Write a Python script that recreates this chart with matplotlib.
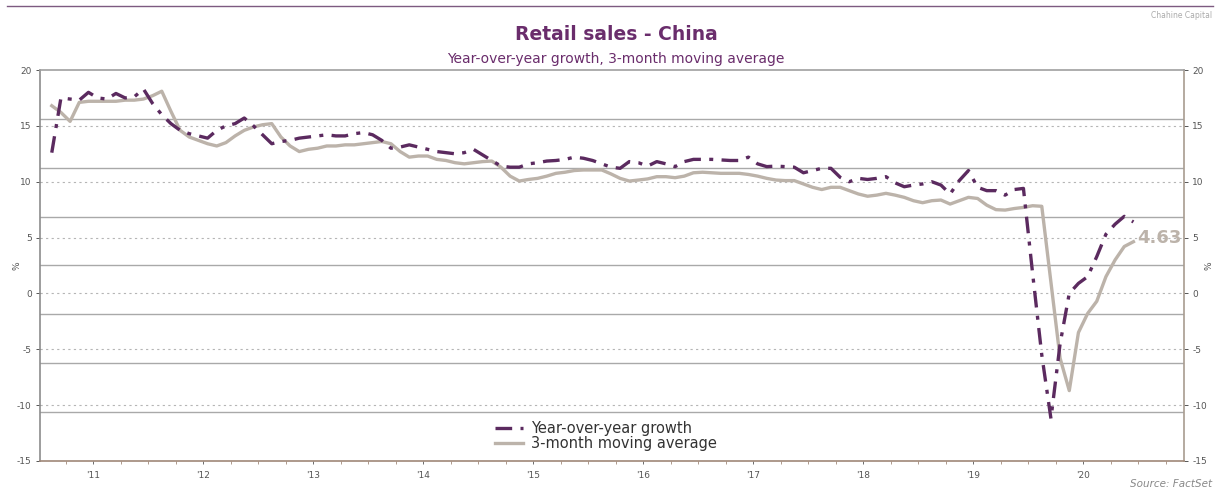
import matplotlib
matplotlib.use("Agg")
import matplotlib.pyplot as plt

# monthly data, Feb 2011 .. Dec 2020
start_year = 2011
start_month = 2

yoy_growth = [
    12.6, 17.5, 17.4, 17.3, 18.0, 17.5, 17.4, 17.9, 17.5, 17.6, 18.3,
    17.0, 16.0, 15.2, 14.6, 14.3, 14.1, 13.9, 14.6, 15.0, 15.2, 15.7, 15.0,
    14.2, 13.4, 13.6, 13.7, 13.9, 14.0, 14.1, 14.2, 14.1, 14.1, 14.3, 14.4,
    14.2, 13.7, 13.0, 13.1, 13.3, 13.1, 12.9, 12.7, 12.6, 12.5, 12.6, 12.9,
    12.4, 11.9, 11.4, 11.3, 11.3, 11.6, 11.7, 11.85, 11.9, 12.0, 12.2, 12.1,
    11.9, 11.6, 11.3, 11.2, 11.8, 11.7, 11.4, 11.8, 11.6, 11.35, 11.8, 12.0,
    12.0, 12.0, 11.95, 11.9, 11.9, 12.2, 11.6, 11.35, 11.4, 11.35, 11.3, 10.8,
    11.0, 11.2, 11.2, 10.4, 10.0, 10.3, 10.2, 10.3, 10.45, 9.9, 9.55, 9.7,
    9.8, 10.0, 9.7, 8.9, 10.1, 11.0, 9.5, 9.2, 9.2, 8.8, 9.3, 9.4,
    1.8, -5.5, -11.2, -4.5, 0.0, 0.9, 1.5, 3.3, 5.3, 6.2, 6.9, 6.4,
]

moving_avg_3m = [
    16.8, 16.2, 15.4, 17.1, 17.2, 17.2, 17.2, 17.2, 17.3, 17.3, 17.4,
    17.7, 18.1, 16.3, 14.6, 14.0, 13.7, 13.4, 13.2, 13.5, 14.1, 14.6, 14.9,
    15.1, 15.2, 14.0, 13.2, 12.7, 12.9, 13.0, 13.2, 13.2, 13.3, 13.3, 13.4,
    13.5, 13.6, 13.4, 12.7, 12.2, 12.3, 12.3, 12.0, 11.9, 11.7, 11.6, 11.7,
    11.8, 11.85, 11.3, 10.5, 10.06, 10.2, 10.3, 10.5, 10.75, 10.85, 11.0, 11.05,
    11.05, 11.05, 10.7, 10.3, 10.06, 10.15, 10.25, 10.45, 10.45, 10.36, 10.5, 10.8,
    10.85, 10.8, 10.75, 10.75, 10.75, 10.65, 10.5, 10.3, 10.15, 10.1, 10.1, 9.8,
    9.5, 9.3, 9.5, 9.5, 9.2, 8.9, 8.7, 8.8, 8.96, 8.8, 8.6, 8.3,
    8.12, 8.3, 8.36, 8.0, 8.3, 8.6, 8.5, 7.9, 7.5, 7.46, 7.6, 7.7,
    7.85, 7.8, 1.0, -5.8, -8.7, -3.5, -1.8, -0.7, 1.5, 3.0, 4.2, 4.63,
]

year_labels = ["'11", "'12", "'13", "'14", "'15", "'16", "'17", "'18", "'19", "'20"]
y_ticks = [-15, -10, -5, 0, 5, 10, 15, 20]

PURPLE = "#5b2a5f"
TITLE_PURPLE = "#6a2d6c"
TAUPE = "#bcb3aa"

dates = [start_year + (start_month - 1 + i + 0.5) / 12 for i in range(len(yoy_growth))]

fig = plt.figure(figsize=(12.15, 4.9), dpi=100)
ax = fig.add_axes([40 / 1215, 1 - 461 / 490, (1184 - 40) / 1215, (461 - 70) / 490])

ymin, ymax = -15, 20
xmin, xmax = 2011.018, 2021.418
ax.set_ylim(ymin, ymax)
ax.set_xlim(xmin, xmax)

# solid grid (8 equal bands) and dotted grid at the ticks
for k in range(1, 8):
    ax.axhline(ymax - k * (ymax - ymin) / 8, color="#a9a9a9", lw=1.0, zorder=1)
for v in y_ticks[1:-1]:
    ax.axhline(v, color="#b5b5b5", lw=0.8, ls=(0, (2, 3)), zorder=1)

ax.plot(dates, moving_avg_3m, color=TAUPE, lw=2.4, label="3-month moving average", zorder=3)
ax.plot(dates, yoy_growth, color=PURPLE, lw=2.4, ls=(0, (5, 2.5, 1.2, 2.5)),
        label="Year-over-year growth", zorder=4)

ax.text(xmax - 0.02, moving_avg_3m[-1] + 0.3, f"{moving_avg_3m[-1]:.2f}",
        color=TAUPE, fontsize=13, fontweight="bold", va="center", ha="right")

# axes styling
ax.spines["top"].set_color("#a0a0a0")
ax.spines["left"].set_color("#8c8c8c")
ax.spines["right"].set_color("#a89c90")
ax.spines["bottom"].set_color("#a08878")
for s in ax.spines.values():
    s.set_linewidth(1.2)

ax.set_yticks(y_ticks)
ax.set_yticklabels([str(v) for v in y_ticks])
ax.tick_params(axis="y", which="both", left=True, right=True, labelleft=True, labelright=True,
               labelsize=6.5, colors="#555555", length=3, width=0.7, pad=3)

quarters = [y + q / 4 for y in range(2011, 2022) for q in range(4)]
ax.set_xticks([q for q in quarters if xmin < q < xmax], minor=True)
ax.set_xticks([y + 0.5 for y in range(2011, 2021)])
ax.set_xticklabels(year_labels)
ax.tick_params(axis="x", which="major", length=2, width=0.6, colors="#555555", labelsize=6.5, pad=5)
ax.tick_params(axis="x", which="minor", length=2, width=0.6, color="#a08878")

fig.text(17 / 1215, 1 - 266 / 490, "%", fontsize=6.5, color="#555555",
         rotation=90, va="center", ha="center")
fig.text(1209 / 1215, 1 - 266 / 490, "%", fontsize=6.5, color="#555555",
         rotation=90, va="center", ha="center")

handles, labels = ax.get_legend_handles_labels()
leg = ax.legend(handles[::-1], labels[::-1], loc="lower left", bbox_to_anchor=(0.39, 0.003),
                frameon=False, fontsize=10.5, handlelength=1.9, handletextpad=0.6,
                labelspacing=0.0, borderaxespad=0.2)
for t in leg.get_texts():
    t.set_color("#333333")

# header and footer
fig.add_artist(plt.Line2D([7 / 1215, 1213 / 1215], [1 - 6 / 490, 1 - 6 / 490],
                          color="#7d5a80", lw=1.0))
fig.text(616 / 1215, 1 - 35 / 490, "Retail sales - China", ha="center", va="center",
         fontsize=13.5, fontweight="bold", color=TITLE_PURPLE)
fig.text(616 / 1215, 1 - 59 / 490, "Year-over-year growth, 3-month moving average",
         ha="center", va="center", fontsize=10, color=TITLE_PURPLE)
fig.text(1212 / 1215, 1 - 15 / 490, "Chahine Capital", ha="right", va="center",
         fontsize=5.5, color="#aaaaaa")
fig.text(1212 / 1215, 1 - 484 / 490, "Source: FactSet", ha="right", va="center",
         fontsize=7.5, style="italic", color="#888888")

fig.savefig("out.png", dpi=100, facecolor="white")
